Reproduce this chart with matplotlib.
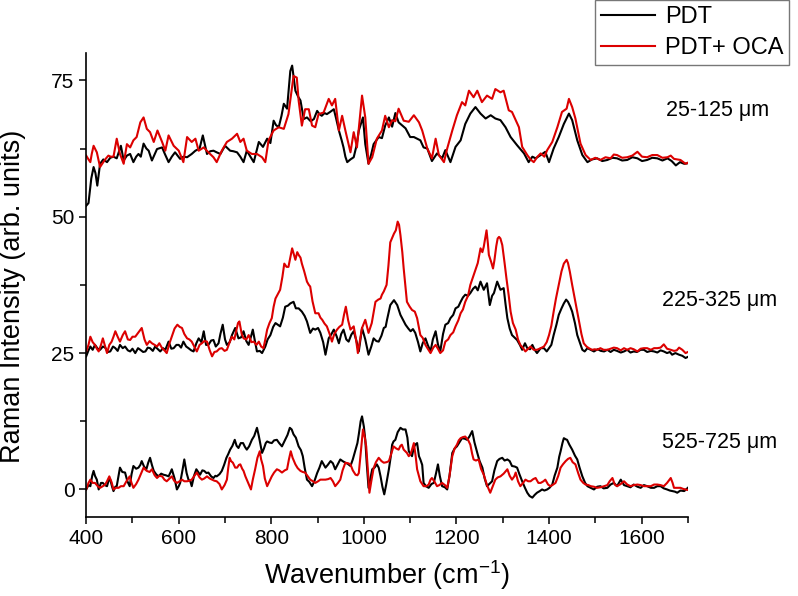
import matplotlib
matplotlib.use("Agg")
import matplotlib.pyplot as plt
from matplotlib.ticker import MultipleLocator

# ---- data (wavenumber, offset intensity) ----
# depth 25-125 um
pdt_top_wn = [400, 405, 411, 416, 420, 424, 430, 437, 445, 452, 459, 466, 475, 481, 488, 495, 502, 508, 513, 518,
              524, 530, 535, 542, 553, 564, 570, 578, 585, 592, 603, 610, 618, 628, 636, 645, 652, 661, 668, 675,
              682, 690, 700, 711, 718, 726, 733, 740, 747, 755, 762, 773, 782, 791, 798, 805, 810, 816, 822, 827,
              834, 841, 845, 852, 858, 863, 870, 877, 885, 892, 899, 904, 909, 915, 920, 927, 935, 940, 946, 952,
              956, 960, 964, 971, 978, 984, 989, 998, 1003, 1010, 1016, 1021, 1032, 1039, 1046, 1054, 1061, 1068,
              1075, 1079, 1090, 1100, 1108, 1115, 1122, 1129, 1137, 1147, 1158, 1169, 1176, 1187, 1198, 1209, 1219,
              1230, 1241, 1252, 1263, 1274, 1284, 1295, 1306, 1317, 1331, 1346, 1356, 1364, 1371, 1382, 1392, 1400,
              1410, 1421, 1432, 1443, 1450, 1461, 1472, 1483, 1493, 1504, 1515, 1526, 1537, 1547, 1558, 1569, 1580,
              1591, 1601, 1612, 1623, 1634, 1645, 1656, 1665, 1674, 1683, 1692, 1700]
pdt_top = [52, 52.5, 57, 59.1, 58, 55.7, 59.7, 60.5, 60, 60.8, 61, 60.7, 63, 60.3, 61.2, 61.5, 60, 61, 61.5, 61,
           63.4, 62.5, 62.1, 60.3, 62.4, 62.7, 61.5, 60, 61, 61.8, 60.6, 61, 60.9, 61.5, 62.1, 62.5, 64.9, 61.5, 62, 62.1,
           61.8, 61.5, 63, 62.1, 62, 61.8, 61, 60, 62.1, 61, 60, 63.7, 62.8, 64.3, 63.5, 67.6, 66.8, 66.4, 68.5, 70.7,
           69.8, 76.7, 77.7, 73.1, 72, 71.3, 67.9, 68.2, 67.5, 67.9, 69.4, 68.8, 68.5, 69, 68.8, 69.2, 69.7, 68, 65.8, 64,
           62.7, 61, 60, 60.5, 60.9, 63, 65.8, 68.2, 63.3, 59.7, 61.5, 63.3, 64.6, 64.4, 66.7, 68.2, 66.5, 69,
           67.3, 67, 66.2, 64.6, 64.6, 64.3, 64, 62.7, 62.5, 60.2, 61.6, 60.7, 62.2, 60, 62.8, 64, 67,
           68.9, 70.1, 68.9, 68, 68.6, 68, 67.7, 66.4, 64.6, 63.1, 61.6, 60, 61, 60.7, 61.3, 61.9, 60,
           62.5, 64.6, 67, 68.9, 67.7, 64, 61.3, 60, 60.5, 60.7, 60.2, 60.4, 60.8, 60.7, 60.3, 60.4, 60.9,
           60.7, 60.2, 60.4, 60.8, 60.7, 60.3, 60.7, 60.2, 59.4, 60, 59.7, 59.8]

oca_top_wn = [400, 405, 409, 412, 416, 423, 430, 437, 442, 448, 453, 459, 466, 473, 481, 488, 495, 502, 509, 517,
              524, 531, 538, 546, 554, 564, 571, 578, 589, 600, 610, 618, 628, 636, 643, 654, 664, 675, 682, 693,
              704, 715, 726, 733, 740, 747, 758, 769, 780, 787, 794, 805, 816, 827, 837, 848, 855, 859, 866, 873,
              881, 888, 895, 902, 913, 924, 931, 938, 946, 953, 960, 971, 978, 985, 996, 1003, 1010, 1018, 1028,
              1039, 1046, 1054, 1061, 1068, 1075, 1086, 1097, 1108, 1119, 1126, 1137, 1147, 1155, 1162, 1173, 1180,
              1191, 1201, 1212, 1219, 1227, 1237, 1245, 1255, 1266, 1277, 1284, 1295, 1302, 1313, 1320, 1328, 1335,
              1342, 1353, 1360, 1367, 1375, 1382, 1390, 1396, 1407, 1418, 1428, 1438, 1443, 1450, 1457, 1468, 1479,
              1490, 1500, 1511, 1522, 1533, 1540, 1547, 1558, 1569, 1580, 1591, 1601, 1612, 1623, 1634, 1645, 1656,
              1663, 1670, 1684, 1695, 1700]
oca_top = [61.2, 60.5, 60, 61.5, 63, 61.8, 59.1, 60, 60.6, 61.2, 61, 61, 64.3, 61.5, 59.7, 63.3, 62.7, 64, 64.6, 67.3,
           68.2, 66.1, 65.5, 63.7, 65.8, 63.7, 62.1, 64.9, 63, 62.1, 60, 64.6, 63.7, 64.3, 62.1, 62.7, 61.8, 60.9, 60, 62.1,
           63.7, 64.3, 65.2, 63.7, 64.3, 62.1, 61.5, 61.5, 60.9, 60, 64, 65.8, 66.4, 66.1, 68.8, 75.8, 75.5, 71.3, 66.7, 69.7,
           69.7, 66.7, 66.4, 68.8, 69.1, 71.6, 70.4, 71.6, 65.8, 68.5, 65.8, 61.8, 65.5, 62.7, 72.2, 68.2, 59.7, 60.9, 64.3,
           65.8, 68.5, 66.4, 67.7, 67.5, 69.8, 67.6, 67.4, 68.6, 67.3, 65.8, 62.5, 60.7, 64.3, 61.3, 60, 62.5,
           65.8, 68.6, 71, 70.4, 73.1, 71.9, 73.1, 71, 72.2, 71.6, 73.4, 72.8, 73.1, 69.5, 69.2, 67.7, 66.4,
           62.8, 61.3, 60.5, 60, 61, 61.6, 61, 62.2, 63.7, 66.4, 69.2, 69.8, 71.6, 70.1, 68, 63.4, 61.3,
           60.4, 60.8, 60.4, 60.9, 60.7, 61.4, 61.3, 60.8, 60.9, 61.2, 61.9, 61, 60.9, 61.3, 61.3, 60.8, 60.9,
           61.2, 60.6, 60.4, 59.7, 59.9]

# depth 225-325 um
pdt_mid_wn = [400, 405, 409, 414, 419, 425, 430, 436, 441, 447, 452, 458, 463, 468, 473, 479, 484, 490, 495, 500,
              506, 512, 517, 523, 528, 533, 538, 544, 549, 555, 560, 566, 571, 578, 584, 589, 595, 600, 605, 610,
              616, 621, 627, 632, 638, 643, 649, 654, 659, 664, 670, 675, 680, 686, 690, 695, 700, 704, 710, 715,
              722, 729, 735, 740, 746, 751, 756, 760, 765, 769, 775, 780, 787, 792, 798, 804, 809, 814, 819, 825,
              830, 836, 841, 848, 853, 859, 866, 872, 877, 884, 890, 895, 901, 906, 912, 917, 924, 930, 935, 941,
              946, 951, 956, 962, 967, 973, 978, 984, 989, 996, 1003, 1010, 1016, 1021, 1027, 1032, 1038, 1043,
              1047, 1050, 1057, 1065, 1072, 1079, 1085, 1090, 1096, 1101, 1106, 1111, 1117, 1122, 1127, 1133, 1138,
              1144, 1149, 1155, 1160, 1165, 1171, 1176, 1182, 1187, 1193, 1198, 1204, 1209, 1214, 1219, 1225, 1230,
              1236, 1241, 1246, 1252, 1259, 1266, 1272, 1277, 1281, 1288, 1295, 1302, 1306, 1310, 1315, 1320, 1326,
              1331, 1337, 1342, 1348, 1353, 1359, 1364, 1369, 1374, 1382, 1389, 1395, 1400, 1405, 1410, 1416, 1421,
              1427, 1432, 1437, 1441, 1446, 1450, 1456, 1461, 1467, 1472, 1477, 1483, 1490, 1497, 1505, 1512, 1519,
              1526, 1533, 1540, 1547, 1555, 1562, 1569, 1576, 1583, 1590, 1598, 1605, 1612, 1620, 1627, 1634, 1641,
              1648, 1655, 1661, 1666, 1673, 1681, 1688, 1695, 1700]
pdt_mid = [24.4, 25.5, 26.2, 25.6, 26.5, 25.8, 25.6, 26.2, 26, 25.2, 25.3, 26.2, 25.9, 25.4, 26.5, 25.9, 26.2, 25.5, 25.3, 25.8,
           25, 25.9, 25.6, 25.2, 25.3, 26, 25.9, 25.4, 26.2, 25.7, 25.3, 25.9, 25.6, 27.1, 25.8, 25.9, 26.5, 26.5, 26, 27.1,
           26.2, 25.9, 25.5, 25.3, 26.8, 27.7, 27, 29, 26.5, 26.5, 27.3, 27.4, 26.2, 26.8, 28.5, 30.2, 27.5, 26.5, 27, 28.3,
           29.6, 27.7, 27.9, 29, 27.2, 26.5, 28, 29.3, 27, 25.3, 25.4, 25, 26.2, 27.5, 28.3, 29.8, 30.5, 30.2, 29.9, 31.5,
           33.5, 33.7, 34.1, 34.4, 33.2, 33.2, 32.6, 31.8, 30.8, 28.7, 29.5, 29.3, 29.6, 28.7, 27, 24.7, 27.7, 28.5, 29.3, 28.1,
           26.8, 28.5, 29.3, 27.5, 27.1, 28.4, 29, 27.2, 25.3, 29.6, 27.5, 24.7, 26.2, 27.7, 27.2, 27.1, 28.2, 29.6,
           29.8, 31.1, 33.8, 34.7, 33.8, 32, 31, 30.2, 29.5, 29, 29.4, 28.7, 27, 25.3, 26.8, 27.7, 26.5,
           25.3, 27.5, 29, 26.6, 25.3, 28.5, 30.2, 30.5, 31.4, 32, 33.2, 33.5, 34.4, 35.2, 35.7, 35.5, 36,
           36.8, 37.2, 36.5, 38.1, 36.6, 37.8, 33.8, 35.5, 36, 38.1, 36.6, 36.9, 34, 31.4, 29.5, 28.3, 27.8,
           27.4, 26.5, 25.6, 26.8, 25.9, 25.7, 26.5, 25.6, 25, 25.9, 25.9, 25.3, 25.9, 26.5, 28.3, 30.2, 32,
           33.2, 34.1, 34.8, 34.4, 33.5, 32.6, 30.5, 28.3, 26.8, 25.6, 25.3, 25.9, 25.6, 25.3, 25.7, 25.4, 25.3,
           25.6, 25.2, 25.6, 25.4, 25.1, 25.3, 25.6, 25.1, 25.3, 25.2, 25.6, 25.6, 25.2, 25.4, 25.3, 25.1, 25.5,
           25.3, 25, 25.2, 24.7, 25, 24.7, 24.5, 24.1, 24.3]

oca_mid_wn = [400, 405, 409, 414, 419, 423, 427, 432, 436, 441, 445, 450, 455, 459, 463, 468, 473, 479, 484, 490,
              495, 500, 506, 513, 520, 526, 531, 537, 542, 548, 553, 558, 564, 569, 574, 580, 585, 591, 597, 602,
              607, 612, 618, 623, 628, 633, 639, 645, 650, 655, 661, 667, 672, 677, 682, 688, 693, 699, 704, 710,
              715, 720, 724, 728, 731, 736, 740, 746, 751, 757, 762, 768, 773, 778, 783, 787, 791, 796, 801, 805,
              809, 814, 819, 824, 828, 833, 837, 841, 845, 849, 852, 856, 859, 863, 866, 871, 877, 881, 884, 889,
              895, 902, 906, 910, 915, 920, 926, 931, 936, 942, 947, 953, 957, 961, 966, 971, 978, 983, 987, 992,
              996, 1003, 1010, 1017, 1025, 1031, 1036, 1039, 1043, 1049, 1053, 1057, 1065, 1069, 1073, 1076, 1079,
              1083, 1086, 1090, 1093, 1099, 1104, 1110, 1115, 1122, 1127, 1133, 1138, 1144, 1150, 1155, 1160, 1165,
              1171, 1176, 1182, 1187, 1193, 1198, 1204, 1209, 1214, 1219, 1225, 1230, 1236, 1241, 1246, 1252, 1256,
              1259, 1262, 1265, 1268, 1270, 1275, 1279, 1282, 1286, 1289, 1292, 1295, 1299, 1304, 1308, 1313, 1317,
              1322, 1328, 1333, 1338, 1344, 1349, 1355, 1360, 1367, 1374, 1382, 1389, 1395, 1400, 1405, 1410, 1415,
              1421, 1427, 1432, 1438, 1441, 1445, 1450, 1454, 1460, 1465, 1470, 1475, 1481, 1486, 1493, 1499, 1504,
              1511, 1518, 1526, 1533, 1540, 1547, 1555, 1562, 1569, 1576, 1583, 1591, 1598, 1605, 1612, 1620, 1627,
              1634, 1641, 1648, 1655, 1663, 1670, 1676, 1681, 1688, 1695, 1700]
oca_mid = [25.3, 26.5, 28, 27, 26.5, 25.8, 25.3, 26.5, 27.7, 26.2, 25, 26.5, 27.1, 28, 29, 28, 27.1, 28.3, 29, 27.5,
           27.4, 28, 28, 28.8, 29.6, 27.5, 26.5, 27.2, 26.8, 26.5, 26.2, 26.8, 25.9, 25.5, 25, 26.8, 28, 29.5, 30.2, 29.8,
           29.6, 28.5, 27.7, 27.5, 27.1, 26.3, 25.3, 26.5, 26.8, 27.2, 27.1, 25.5, 24.4, 25.2, 25.3, 25.8, 25.9, 25.4, 25.6, 27,
           28, 27.5, 29, 30.5, 30.8, 28.5, 27.7, 27.5, 28.3, 27, 27.1, 26.5, 27.1, 26.2, 25.9, 27.5, 29.3, 30.5, 31.4, 33.5,
           35, 35.8, 36.6, 39, 41.4, 40.8, 40.8, 42.5, 44.2, 43, 42.1, 43.5, 43, 42.5, 41.4, 40, 38.1, 37.5, 37.2, 34.5,
           32.3, 32.3, 31.5, 31.1, 30.4, 29.9, 28.5, 27.1, 28.5, 29.3, 29.8, 30.2, 32, 33.5, 31, 29.3, 29.9, 27.5, 25, 27.5,
           29.6, 31.1, 28.7, 30.5, 34.4, 34.8, 35, 35.7, 36.3, 37.5, 41, 45.3, 46.9, 47.5, 49.1, 48.5, 46.6,
           43.5, 40.5, 37, 34.4, 33.5, 32.9, 32.6, 31.4, 28.3, 27.8, 26.5, 25.8, 25, 26, 26.5, 25.8, 25,
           25.5, 27.1, 27.5, 28.3, 28.8, 29.9, 31, 32.3, 33, 34.4, 35.5, 37.5, 39, 40.2, 41.5, 44.2, 43.5,
           44.5, 46, 47.5, 45, 43, 41.7, 40.5, 42, 44.6, 46, 46.3, 46, 44.8, 41.5, 38.7, 35.5, 32.6,
           30.5, 29.3, 27.5, 26.5, 25.9, 25.3, 25.8, 26.2, 25.6, 25.6, 25.9, 26.2, 27, 28.3, 30, 32.6, 35,
           37.5, 40, 41.4, 42.1, 41.5, 39.9, 37.5, 35.7, 33, 30.8, 28.5, 26.8, 26.2, 25.9, 25.6, 25.7, 25.6,
           25.9, 25.6, 25.6, 25.8, 26, 25.9, 25.5, 25.9, 25.6, 25.9, 25.7, 25.3, 25.8, 25.9, 25.9, 25.6, 25.9,
           25.9, 26, 26.6, 25.8, 25.6, 25.4, 25.5, 26, 25.6, 25, 25.2]

# depth 525-725 um
pdt_low_wn = [400, 405, 409, 413, 416, 419, 423, 427, 432, 436, 440, 445, 449, 452, 456, 459, 463, 466, 470, 473,
              478, 484, 489, 494, 498, 502, 508, 513, 517, 520, 525, 530, 534, 538, 542, 546, 551, 556, 562, 567,
              572, 578, 582, 585, 591, 596, 600, 603, 608, 612, 617, 621, 625, 628, 633, 638, 642, 646, 651, 655,
              660, 664, 670, 675, 679, 682, 688, 693, 698, 703, 707, 711, 716, 721, 725, 729, 734, 739, 743, 747,
              752, 758, 763, 769, 773, 777, 780, 784, 788, 791, 796, 801, 806, 812, 817, 823, 830, 835, 840, 844,
              848, 853, 859, 864, 868, 872, 877, 882, 888, 893, 899, 904, 909, 913, 917, 922, 928, 933, 938, 943,
              949, 954, 960, 965, 971, 976, 982, 986, 989, 993, 996, 1000, 1003, 1006, 1010, 1014, 1018, 1023,
              1028, 1032, 1036, 1040, 1044, 1048, 1054, 1058, 1061, 1064, 1068, 1073, 1079, 1084, 1090, 1094, 1097,
              1101, 1104, 1108, 1112, 1115, 1119, 1122, 1126, 1129, 1134, 1140, 1146, 1151, 1156, 1160, 1164, 1169,
              1175, 1180, 1185, 1191, 1196, 1201, 1207, 1212, 1218, 1223, 1228, 1234, 1239, 1245, 1250, 1256, 1261,
              1266, 1271, 1277, 1282, 1288, 1293, 1299, 1304, 1310, 1315, 1320, 1326, 1331, 1336, 1342, 1348, 1353,
              1358, 1364, 1369, 1374, 1380, 1385, 1390, 1396, 1401, 1407, 1412, 1418, 1422, 1425, 1429, 1432, 1436,
              1439, 1444, 1450, 1456, 1461, 1466, 1472, 1478, 1483, 1490, 1497, 1504, 1511, 1518, 1526, 1533, 1540,
              1547, 1555, 1562, 1569, 1576, 1583, 1591, 1598, 1605, 1612, 1620, 1627, 1634, 1641, 1648, 1655, 1661,
              1666, 1672, 1677, 1684, 1692, 1700]
pdt_low = [0, 0.8, 0.6, 2.5, 3.4, 2.5, 1.8, 0, 1.2, 1.2, 0.8, 0.6, 1.8, 1.8, 0.5, -0.3, 0.5, 0.6, 2.5, 4,
           3.2, 3.1, 1.5, 0.6, 2.8, 4.3, 3.8, 4, 4.5, 5.2, 4.2, 3.7, 4.9, 5.8, 4.5, 3.4, 2.8, 2.4, 2.9, 2.7,
           2.6, 2.4, 3.1, 3.7, 2, 0, 0.6, 1.2, 3.5, 5.5, 3, 1.8, 1.5, 0.6, 2.5, 3.7, 3.2, 2.7, 3.5, 3.4,
           3, 3.1, 2.4, 2.1, 2.5, 2.4, 2.8, 3.4, 4.5, 5.8, 6.5, 7.3, 8, 9.1, 8, 7.6, 8.5, 8.5, 7.8, 7.3,
           7.9, 9.1, 9.8, 11.3, 9.8, 8, 6.7, 7.5, 8.5, 8.8, 8.6, 8.5, 9, 9.1, 8.5, 7.9, 9.1, 10, 11.3, 11,
           10.1, 9.5, 7.9, 7.2, 6.1, 4, 1.8, 1.4, 0.6, 1.5, 3, 4, 5.2, 4.6, 4, 4.5, 5.2, 4.8, 3.7, 4.5,
           5.5, 5.2, 4.9, 4.7, 4.3, 5.5, 7.3, 8.5, 10.1, 12.5, 13.4, 11.5, 9.1, 5, 0.3, 2, 3.7, 4,
           4.6, 4, 2.4, 0.5, -0.9, 0.8, 3.7, 6, 8.2, 8.8, 9.1, 10.5, 11.3, 11, 11, 9.5, 7,
           6.5, 6.1, 7.8, 8.3, 8.5, 6.1, 5.5, 4.5, 1.2, 0.6, 0.3, 1, 1.2, 3, 4.6, 2.5, 0.6,
           0.4, 0, 2.5, 6.7, 7.5, 7.9, 8.7, 9.4, 9.3, 9.1, 9.7, 10.7, 8.6, 6.7, 5.2, 4, 2,
           0.6, 1, 1.5, 3.5, 5.2, 5.6, 5.8, 5.3, 5.5, 5.2, 4.3, 4.2, 4, 2.8, 1.5, 0.3, -0.6,
           -1.2, -1.5, -1, -0.6, -0.3, 0, -0.2, 0, 0.3, 0.9, 2.5, 4, 6, 7, 8.5, 9.4, 9.2,
           9.1, 8.2, 7.3, 6.2, 5.5, 4, 2.4, 1.2, 0.6, 0.3, 0, 0.5, 0.6, 0.2, 0.3, 0.9, 1.2,
           0.6, 1.8, 0.8, 0.6, 0.4, 0.9, 0.5, 0.3, 0.8, 0.6, 0.3, 0.3, 0.6, 0.6, 0.2, 0, -0.2,
           -0.3, -0.4, -0.6, -0.2, -0.3, 0.3]

oca_low_wn = [400, 405, 409, 414, 419, 425, 430, 436, 441, 445, 450, 455, 459, 464, 470, 475, 481, 487, 494, 498,
              502, 508, 513, 518, 524, 527, 531, 537, 542, 548, 553, 558, 564, 569, 574, 580, 585, 590, 596, 602,
              607, 612, 618, 623, 628, 634, 639, 645, 650, 655, 661, 667, 672, 677, 682, 688, 693, 699, 704, 707,
              710, 713, 717, 722, 726, 730, 733, 737, 740, 744, 747, 752, 756, 760, 765, 770, 775, 778, 782, 786,
              791, 796, 801, 806, 812, 817, 823, 829, 834, 838, 842, 846, 852, 857, 863, 868, 873, 879, 884, 890,
              895, 901, 906, 912, 917, 923, 928, 933, 938, 944, 949, 954, 960, 966, 971, 976, 982, 986, 989, 993,
              998, 1002, 1005, 1009, 1012, 1016, 1021, 1026, 1032, 1038, 1043, 1049, 1054, 1059, 1064, 1070, 1075,
              1079, 1082, 1086, 1093, 1097, 1101, 1104, 1108, 1112, 1115, 1122, 1129, 1135, 1140, 1144, 1147, 1152,
              1158, 1163, 1169, 1175, 1180, 1185, 1191, 1196, 1201, 1205, 1209, 1214, 1219, 1225, 1230, 1234, 1237,
              1242, 1248, 1253, 1259, 1266, 1273, 1278, 1284, 1289, 1295, 1302, 1310, 1315, 1320, 1325, 1328, 1333,
              1338, 1344, 1349, 1355, 1360, 1366, 1371, 1377, 1382, 1388, 1392, 1398, 1403, 1409, 1414, 1420, 1425,
              1430, 1436, 1441, 1446, 1451, 1457, 1463, 1468, 1474, 1479, 1485, 1490, 1497, 1504, 1511, 1519, 1526,
              1531, 1537, 1542, 1547, 1555, 1562, 1569, 1576, 1583, 1591, 1598, 1605, 1612, 1620, 1627, 1634, 1641,
              1648, 1655, 1663, 1667, 1670, 1677, 1684, 1690, 1695, 1700]
oca_low = [0, 1.2, 1.8, 1.2, 1.2, 0.6, 0.3, 0.6, 0.9, 1.5, 2.4, 1.3, 0, 0.3, 0.3, 0.6, 0.6, 1.5, 2.4, 1.2,
           0.3, 1, 1.8, 2.8, 4, 3.7, 3.4, 3.2, 3.7, 2.6, 2.1, 2.5, 2.4, 1.8, 1.5, 2, 2.4, 1.6, 1.2, 1.5,
           1.8, 1.5, 1.5, 1.6, 1.8, 2.5, 3.1, 2.2, 1.8, 2, 2.4, 2, 1.8, 1.6, 1.5, 1, 0, 0.8, 1.8, 4,
           5.8, 5.2, 4.9, 4, 4, 4.5, 4.6, 3.8, 3.4, 2.4, 1.8, 0.8, 0, 1.8, 3.7, 5.8, 7, 5.5, 4.3, 2,
           0.6, 1.5, 2.4, 3.1, 3.7, 3.5, 3.1, 3.5, 3.7, 5.5, 7, 5.8, 4.6, 3.9, 3.4, 3.2, 3.1, 2.4, 1.8, 1.5,
           1.2, 1.5, 1.8, 1.8, 1.8, 1.9, 2.1, 1.5, 0.6, 1.2, 1.8, 3.5, 4.9, 4.8, 4.6, 3.5, 2.7, 2.6, 3, 6.5,
           11, 9.5, 7.9, 3, -0.6, 1.5, 3.9, 5, 5.8, 5.2, 4.9, 5, 5.2, 6.5, 7.9, 7.5, 7.3,
           8, 8.2, 7.3, 6.7, 6.1, 6.5, 7.3, 8.5, 6, 3.7, 1.5, 0.6, 0.6, 0.9, 1.8, 2.1, 1.5,
           0.6, 0.8, 1.2, 0.8, 0.3, 2.5, 6.1, 7.5, 8.2, 9, 9.4, 9.6, 9.7, 9.1, 8.2, 6.5, 5.5,
           5.3, 5.5, 3.8, 2.7, 0.8, -0.6, 0.5, 1.8, 2.2, 2.4, 2.9, 3.7, 2.5, 1.8, 2.4, 3.1, 1.5,
           0.6, 1.2, 1.8, 1.5, 1.5, 1.9, 2.1, 1.2, 1.2, 1.5, 1.8, 0.9, 0.6, 0.9, 1.2, 2.5, 4,
           4.6, 5.2, 5.6, 5.8, 5, 4.6, 3, 1.8, 1.2, 0.9, 0.8, 0.6, 0.5, 0.3, 0.4, 0.6, 0.8,
           1.5, 2.1, 0.9, 0.6, 1, 1.5, 0.9, 0.6, 0.8, 0.9, 0.8, 0.6, 0.6, 0.6, 0.9, 0.9, 0.8,
           0.6, 1.2, 2.1, 1.2, 0.3, 0.3, 0.3, 0.1, 0, -0.1]

depth_labels = ["25-125 μm", "225-325 μm", "525-725 μm"]
label_pos = [(1652, 69.5), (1645, 34.7), (1645, 8.6)]

series_names = ["PDT", "PDT+ OCA"]
colors = ["#000000", "#dc0000"]

plt.rcParams["font.family"] = ["Liberation Sans", "DejaVu Sans"]
plt.rcParams["mathtext.default"] = "regular"

fig = plt.figure(figsize=(7.98, 5.96), dpi=100)
ax = fig.add_axes([0.108, 0.133, 0.754, 0.778])

groups = [
    ((pdt_top_wn, pdt_top), (oca_top_wn, oca_top)),
    ((pdt_mid_wn, pdt_mid), (oca_mid_wn, oca_mid)),
    ((pdt_low_wn, pdt_low), (oca_low_wn, oca_low)),
]
for pair in groups:
    for (wn, vals), c in zip(pair, colors):
        ax.plot(wn, vals, color=c, lw=1.5)

for txt, (x, y) in zip(depth_labels, label_pos):
    ax.text(x, y, txt, fontsize=15.5, va="center", ha="left")

ax.set_xlim(400, 1700)
ax.set_ylim(-5, 80)
ax.set_xticks([400, 600, 800, 1000, 1200, 1400, 1600])
ax.xaxis.set_minor_locator(MultipleLocator(100))
ax.yaxis.set_major_locator(MultipleLocator(25))
ax.yaxis.set_minor_locator(MultipleLocator(12.5))
ax.tick_params(which="both", direction="out", width=1.1, labelsize=15)
ax.tick_params(which="major", length=5)
ax.tick_params(which="minor", length=4)
for s in ["top", "right"]:
    ax.spines[s].set_visible(False)
for s in ["left", "bottom"]:
    ax.spines[s].set_linewidth(1.2)

ax.set_xlabel("Wavenumber (cm$^{-1}$)", fontsize=19.5, labelpad=8)
ax.set_ylabel("Raman Intensity (arb. units)", fontsize=19.5)
ax.yaxis.set_label_coords(-0.1, 0.475)

handles = [plt.Line2D([], [], color=c, lw=1.5) for c in colors]
leg = fig.legend(handles, series_names, loc="upper right", bbox_to_anchor=(0.989, 1.0),
                 fontsize=17, frameon=True, fancybox=False, handlelength=2.3,
                 borderaxespad=0.0, labelspacing=0.4, handletextpad=0.4, borderpad=0.25)
leg.get_frame().set_edgecolor("#555555")
leg.get_frame().set_linewidth(1.0)

fig.savefig("out.png", dpi=100)
